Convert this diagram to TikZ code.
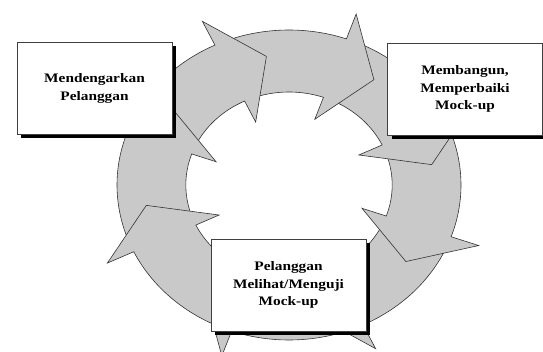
\documentclass[tikz,border=0pt]{standalone}
\usepackage{fontspec}
\newfontfamily\boxfont[FakeStretch=1.18]{Liberation Serif Bold}
\usetikzlibrary{shadows}

\tikzset{
  ringarrow/.style={fill=black!21, draw=black!80, line width=0.6pt, line join=miter},
  stepbox/.style={draw=black!75, line width=0.7pt, fill=white,
    minimum width=155pt, minimum height=92pt, align=center,
    font=\boxfont\fontsize{13}{17.5}\selectfont,
    drop shadow={shadow xshift=4pt, shadow yshift=-4pt, fill=black, opacity=1}}
}

\begin{document}
\begin{tikzpicture}[x=1pt, y=1pt]
  \useasboundingbox (0,0) rectangle (543,351);

  \begin{scope}[shift={(289,166)}, xscale=172, yscale=155]
    \foreach \b in {-109.5,-64.5,-19.5,25.5,70.5,115.5,160.5,205.5}
      \filldraw[ringarrow] ({\b+41}:0.6pt) arc[start angle={\b+41}, end angle=\b, radius=0.6pt]
        -- (\b:0.45pt) -- ({\b-16.5}:0.84pt) -- (\b:1.17pt) -- (\b:1pt)
        arc[start angle=\b, end angle={\b+41}, radius=1pt] -- cycle;
  \end{scope}

  \node[stepbox] (listen) at (94.5,262.5) {Mendengarkan\\Pelanggan};
  \node[stepbox] (build) at (465,262) {Membangun,\\Memperbaiki\\Mock-up};
  \node[stepbox] (test) at (288.5,66) {Pelanggan\\Melihat/Menguji\\Mock-up};

\end{tikzpicture}
\end{document}
